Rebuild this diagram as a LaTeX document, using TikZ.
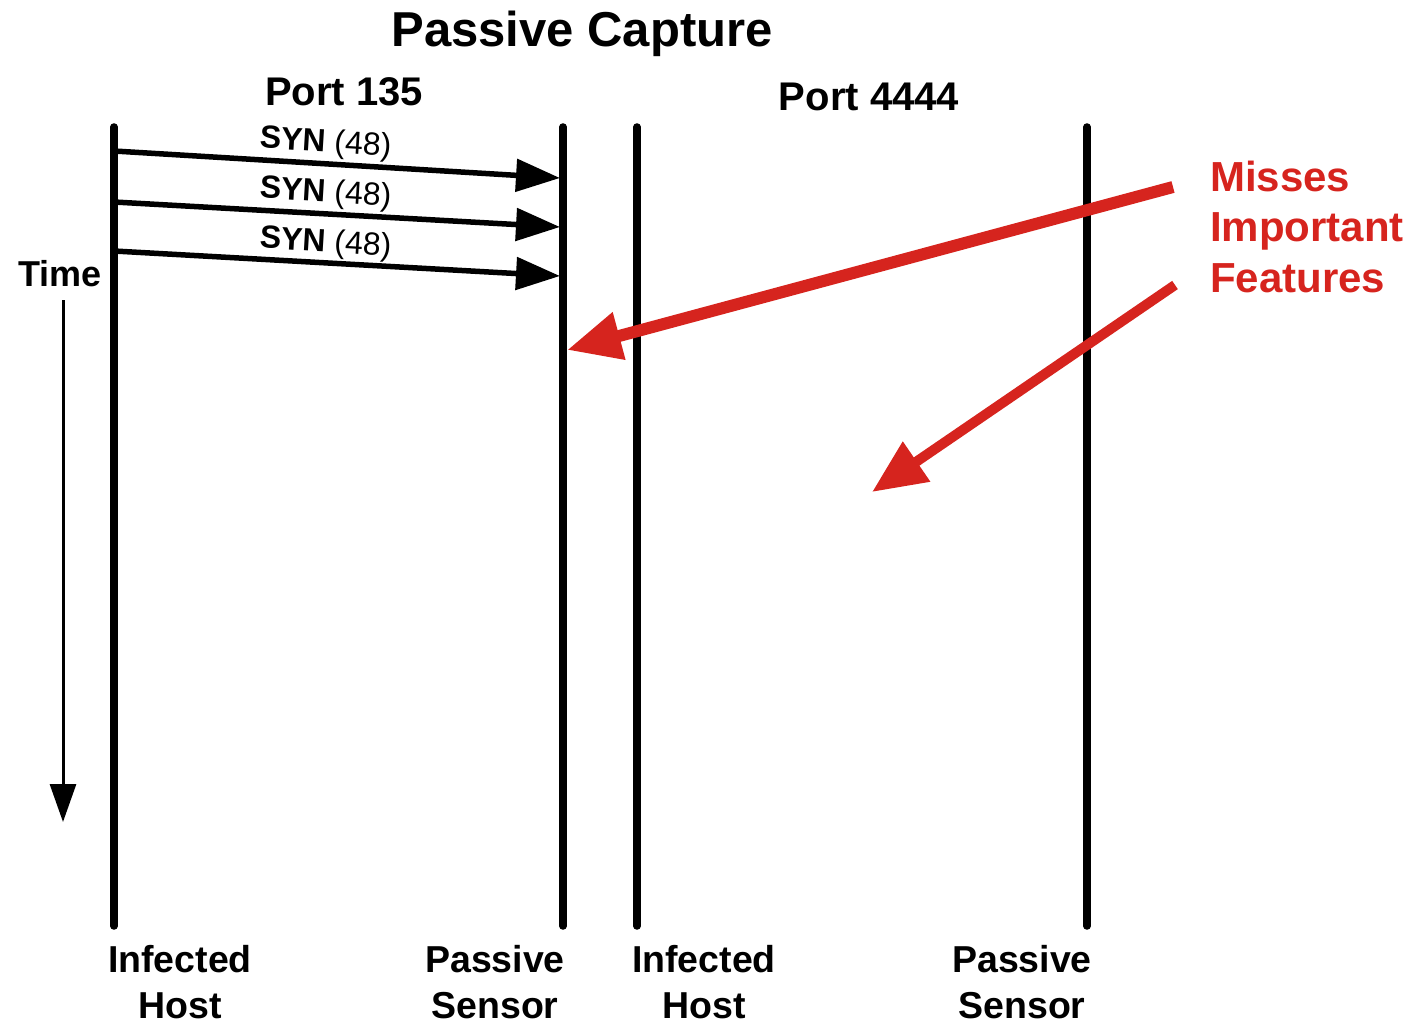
\documentclass[tikz,border=0pt]{standalone}
\usepackage{fontspec}
\setmainfont{Liberation Sans}
\usetikzlibrary{arrows.meta}
\definecolor{alertred}{RGB}{214,36,30}
\begin{document}
\begin{tikzpicture}[x=1pt,y=-1pt,
  lifeline/.style={line width=7.5pt,line cap=round},
  msg/.style={line width=5.5pt,-{Triangle[length=44pt,width=32pt]}},
  msglabel/.style={anchor=base,font=\fontsize{32}{32}\selectfont,rotate=-3.5,inner sep=0pt},
  heading/.style={anchor=base,font=\bfseries\fontsize{40}{40}\selectfont,inner sep=0pt},
  role/.style={anchor=base,font=\bfseries\fontsize{37.5}{37.5}\selectfont,inner sep=0pt},
  note/.style={anchor=base west,font=\bfseries\fontsize{42}{42}\selectfont,text=alertred,inner sep=0pt},
  pointer/.style={draw=alertred,-{Triangle[length=54pt,width=46pt]}}]
\useasboundingbox (0,0) rectangle (1420,1024);

% title and port headings
\node[anchor=base,font=\bfseries\fontsize{49}{49}\selectfont,inner sep=0pt] (title) at (582,47) {Passive Capture};
\node[heading] (p135) at (344,106) {Port 135};
\node[heading] (p4444) at (869,111) {Port 4444};

% lifelines
\coordinate (h1t) at (114,127); \coordinate (h1b) at (114,926);
\coordinate (s1t) at (563,127); \coordinate (s1b) at (563,926);
\coordinate (h2t) at (637,127); \coordinate (h2b) at (637,926);
\coordinate (s2t) at (1087,127); \coordinate (s2b) at (1087,926);
\draw[lifeline] (h1t) -- (h1b);
\draw[lifeline] (s1t) -- (s1b);
\draw[lifeline] (h2t) -- (h2b);
\draw[lifeline] (s2t) -- (s2b);

% SYN messages from the infected host to the sensor
\coordinate (m1a) at (114,151); \coordinate (m1b) at (560,178);
\coordinate (m2a) at (114,202); \coordinate (m2b) at (560,227);
\coordinate (m3a) at (114,251); \coordinate (m3b) at (560,276);
\draw[msg] (m1a) -- (m1b);
\draw[msg] (m2a) -- (m2b);
\draw[msg] (m3a) -- (m3b);
\node[msglabel] (l1) at (325,152) {\textbf{SYN} (48)};
\node[msglabel] (l2) at (325,202) {\textbf{SYN} (48)};
\node[msglabel] (l3) at (325,252) {\textbf{SYN} (48)};

% time axis
\node[anchor=base,font=\bfseries\fontsize{36}{36}\selectfont,inner sep=0pt] (time) at (60,286) {Time};
\coordinate (t0) at (63,300); \coordinate (t1) at (63,822);
\draw[line width=3pt,-{Triangle[length=38pt,width=26pt]}] (t0) -- (t1);

% role labels
\node[role] (r1a) at (180,972) {Infected};
\node[role] (r1b) at (180,1018) {Host};
\node[role] (r2a) at (495,972) {Passive};
\node[role] (r2b) at (495,1018) {Sensor};
\node[role] (r3a) at (704,972) {Infected};
\node[role] (r3b) at (704,1018) {Host};
\node[role] (r4a) at (1022,972) {Passive};
\node[role] (r4b) at (1022,1018) {Sensor};

% annotation
\node[note] (n1) at (1210,192) {Misses};
\node[note] (n2) at (1210,242) {Important};
\node[note] (n3) at (1210,292) {Features};
\coordinate (a1s) at (1173,187); \coordinate (a1e) at (567,350);
\coordinate (a2s) at (1175,285); \coordinate (a2e) at (872,492);
\draw[pointer,line width=12pt] (a1s) -- (a1e);
\draw[pointer,line width=10pt] (a2s) -- (a2e);
\end{tikzpicture}
\end{document}
